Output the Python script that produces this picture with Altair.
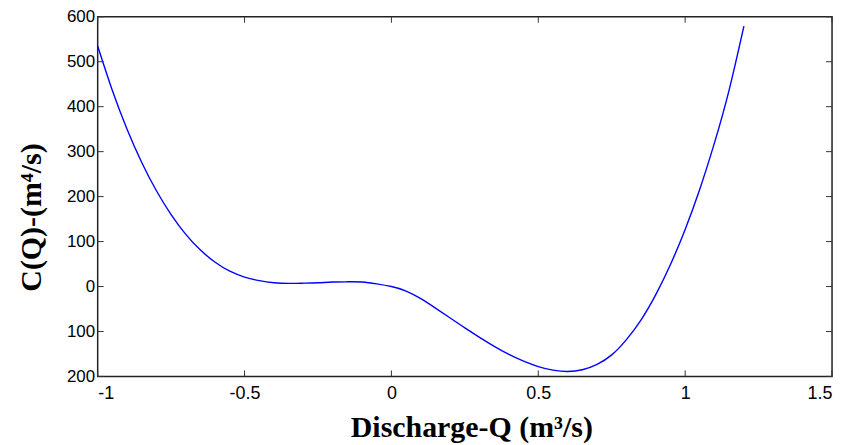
import altair as alt
import pandas as pd

# Curve
q = [-1.00, -0.95, -0.90, -0.85, -0.80, -0.75, -0.70, -0.65, -0.60, -0.55,
     -0.50, -0.45, -0.40, -0.35, -0.30, -0.25, -0.20, -0.15, -0.10, -0.05,
     0.00, 0.05, 0.10, 0.15, 0.20, 0.25, 0.30, 0.35, 0.40, 0.45,
     0.50, 0.55, 0.60, 0.65, 0.70, 0.75, 0.80, 0.85, 0.90, 0.95,
     1.00, 1.05, 1.10, 1.15, 1.20]
c = [535, 436, 350, 276, 213, 160, 116, 81, 54, 34,
     21, 13, 8.5, 7, 7.5, 8.5, 10, 10.5, 10, 6,
     0, -10, -27, -48, -70, -92, -113, -133, -151, -166,
     -178, -186, -189, -185, -173, -152, -118, -74, -18, 49,
     127, 217, 320, 438, 579]

x_ticks = [-1, -0.5, 0, 0.5, 1, 1.5]
y_ticks = [-200, -100, 0, 100, 200, 300, 400, 500, 600]

W, H = 737, 361
TL = 6

xs = alt.Scale(domain=[-1, 1.5], nice=False, zero=False)
ys = alt.Scale(domain=[-200, 600], nice=False, zero=False)

x_axis = alt.Axis(
    values=x_ticks, title="Discharge-Q (m³/s)",
    labelExpr="datum.value < 0 ? '-' + format(abs(datum.value), '') : format(datum.value, '')",
    labelFont="Liberation Sans", labelFontSize=18, labelColor="#000",
    labelPadding=8, ticks=False, tickSize=0, domain=False, grid=False,
    titleFont="Liberation Serif", titleFontWeight="bold", titleFontSize=30,
    titleColor="#000", titleBaseline="alphabetic", titleX=375, titleY=60,
)
y_axis = alt.Axis(
    values=y_ticks, title="C(Q)-(m⁴/s)",
    labelExpr="format(abs(datum.value), 'd')",
    labelFont="Liberation Sans", labelFontSize=17, labelColor="#000",
    labelPadding=3, ticks=False, tickSize=0, domain=False, grid=False,
    titleFont="Liberation Serif", titleFontWeight="bold", titleFontSize=30,
    titleColor="#000", titleBaseline="alphabetic", titleX=-57, titleY=201,
    titleAngle=270,
)

curve = alt.Chart(pd.DataFrame({"Q": q, "C": c})).mark_line(
    color="#0000ff", strokeWidth=1.4, interpolate="natural"
).encode(
    x=alt.X("Q:Q", scale=xs, axis=x_axis),
    y=alt.Y("C:Q", scale=ys, axis=y_axis),
)

xt = pd.DataFrame({"t": x_ticks})
yt = pd.DataFrame({"t": y_ticks})

bottom = alt.Chart(xt).mark_rule(color="#333", strokeWidth=1).encode(
    x=alt.X("t:Q", scale=xs, axis=x_axis), y=alt.value(H), y2=alt.value(H - TL))
top = alt.Chart(xt).mark_rule(color="#333", strokeWidth=1).encode(
    x=alt.X("t:Q", scale=xs, axis=x_axis), y=alt.value(0), y2=alt.value(TL))
left = alt.Chart(yt).mark_rule(color="#333", strokeWidth=1).encode(
    y=alt.Y("t:Q", scale=ys, axis=y_axis), x=alt.value(0), x2=alt.value(TL))
right = alt.Chart(yt).mark_rule(color="#333", strokeWidth=1).encode(
    y=alt.Y("t:Q", scale=ys, axis=y_axis), x=alt.value(W), x2=alt.value(W - TL))

chart = alt.layer(curve, bottom, top, left, right).properties(
    width=W, height=H,
    autosize=alt.AutoSizeParams(type="none"),
    padding={"left": 90, "top": 8, "right": 10, "bottom": 68},
).configure(
    background="white",
    view=alt.ViewConfig(stroke="#222", strokeWidth=1.5),
)

chart.save("out.html", embed_options={"renderer": "svg", "actions": False})
